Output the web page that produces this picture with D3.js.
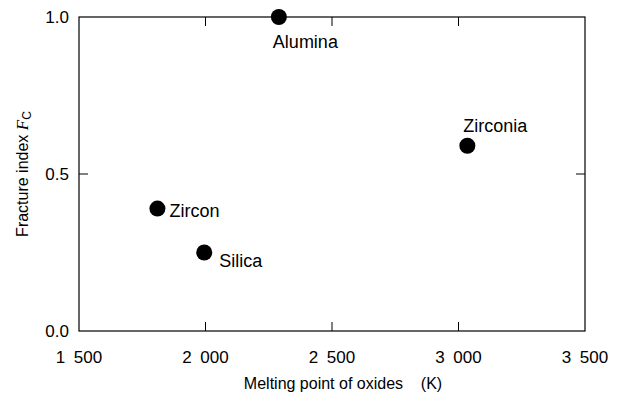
<!DOCTYPE html>
<html>
<head>
<meta charset="utf-8">
<script src="https://cdn.jsdelivr.net/npm/d3@7"></script>
<style>
  body { margin: 0; background: #fff; }
  svg { display: block; font-family: "Liberation Sans", Arial, sans-serif; }
</style>
</head>
<body>
<svg id="chart" width="626" height="396"></svg>
<script>
// data
const oxides = ["Alumina", "Zirconia", "Zircon", "Silica"];
const meltingPoint = [2290, 3035, 1810, 1995];
const fractureIndex = [1.0, 0.59, 0.39, 0.25];
const xTicks = [1500, 2000, 2500, 3000, 3500];
const yTicks = [0.0, 0.5, 1.0];

const width = 626, height = 396;
const margin = { top: 17, right: 41, bottom: 65, left: 79 };

const svg = d3.select("#chart");

const x = d3.scaleLinear().domain([1500, 3500]).range([margin.left, width - margin.right]);
const y = d3.scaleLinear().domain([0, 1]).range([height - margin.bottom, margin.top]);

const fmtX = d => d3.format(",")(d).replace(",", "\u2002");
const fmtY = d3.format(".1f");

// frame
svg.append("rect")
  .attr("x", x(1500)).attr("y", y(1))
  .attr("width", x(3500) - x(1500)).attr("height", y(0) - y(1))
  .attr("fill", "none").attr("stroke", "#000").attr("stroke-width", 1.2);

// inward ticks on all four sides
const tickLen = 9;
const g = svg.append("g").attr("stroke", "#000").attr("stroke-width", 1);
xTicks.slice(1, -1).forEach(t => {
  g.append("line").attr("x1", x(t)).attr("x2", x(t)).attr("y1", y(0)).attr("y2", y(0) - tickLen);
  g.append("line").attr("x1", x(t)).attr("x2", x(t)).attr("y1", y(1)).attr("y2", y(1) + tickLen);
});
yTicks.slice(1, -1).forEach(t => {
  g.append("line").attr("y1", y(t)).attr("y2", y(t)).attr("x1", x(1500)).attr("x2", x(1500) + tickLen);
  g.append("line").attr("y1", y(t)).attr("y2", y(t)).attr("x1", x(3500)).attr("x2", x(3500) - tickLen);
});

// tick labels
svg.append("g").selectAll("text").data(xTicks).join("text")
  .attr("x", d => x(d)).attr("y", y(0) + 32)
  .attr("text-anchor", "middle").attr("font-size", 17).attr("fill", "#000")
  .text(fmtX);

svg.append("g").selectAll("text").data(yTicks).join("text")
  .attr("x", x(1500) - 10).attr("y", d => y(d)).attr("dy", "0.36em")
  .attr("text-anchor", "end").attr("font-size", 17).attr("fill", "#000")
  .text(fmtY);

// axis titles
svg.append("text")
  .attr("x", (x(1500) + x(3500)) / 2 + 11).attr("y", 389)
  .attr("text-anchor", "middle").attr("font-size", 16).attr("fill", "#000")
  .attr("xml:space", "preserve")
  .text("Melting point of oxides    (K)");

const yt = svg.append("text")
  .attr("transform", `translate(28,${(y(0) + y(1)) / 2}) rotate(-90)`)
  .attr("text-anchor", "middle").attr("font-size", 16).attr("fill", "#000");
yt.append("tspan").text("Fracture index ");
yt.append("tspan").attr("font-style", "italic").attr("font-family", "Liberation Serif, Times New Roman, serif").attr("font-size", 17).text("F");
yt.append("tspan").attr("font-size", 12).attr("dy", 3).text("C");

// points
const pts = oxides.map((name, i) => ({ name, mp: meltingPoint[i], fc: fractureIndex[i] }));
svg.append("g").selectAll("circle").data(pts).join("circle")
  .attr("cx", d => x(d.mp)).attr("cy", d => y(d.fc)).attr("r", 8)
  .attr("fill", "#000");

// point labels
const labelPos = {
  Alumina: { dx: -6, dy: 31, anchor: "start" },
  Zirconia: { dx: -4, dy: -14, anchor: "start" },
  Zircon: { dx: 12, dy: 8, anchor: "start" },
  Silica: { dx: 15, dy: 14, anchor: "start" }
};
svg.append("g").selectAll("text").data(pts).join("text")
  .attr("x", d => x(d.mp) + labelPos[d.name].dx)
  .attr("y", d => y(d.fc) + labelPos[d.name].dy)
  .attr("text-anchor", d => labelPos[d.name].anchor)
  .attr("font-size", 18).attr("fill", "#000")
  .text(d => d.name);
</script>
</body>
</html>
